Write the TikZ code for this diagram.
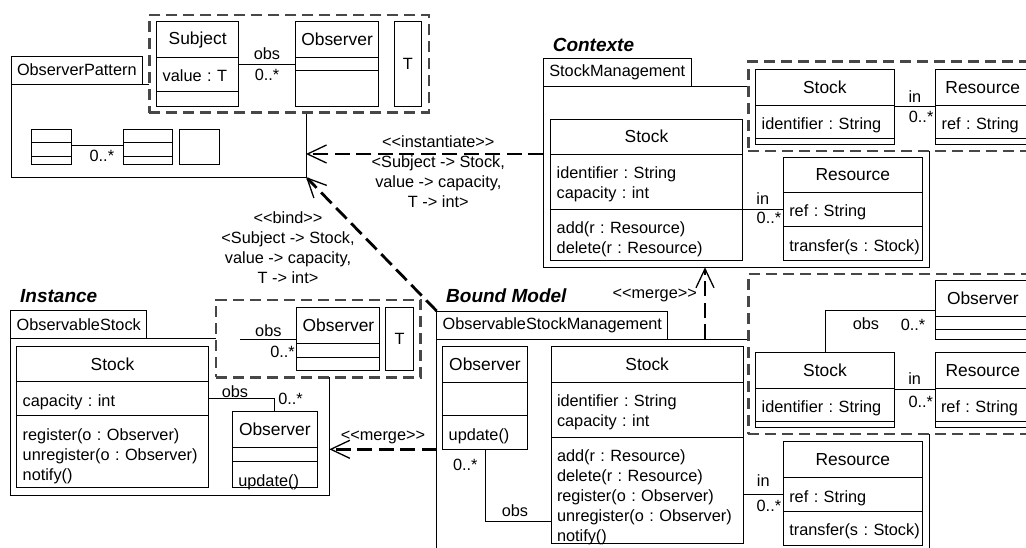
\documentclass[tikz,border=0pt]{standalone}
\usepackage{fontspec}
\usepackage{tikz}
\usetikzlibrary{arrows.meta,positioning}

\newfontfamily\umlfont{Liberation Sans}
\newcommand\txtfont{\umlfont\fontsize{16.3}{20}\selectfont\frenchspacing}
\newcommand\namefont{\umlfont\fontsize{17.4}{20}\selectfont}
\newcommand\pkgfont{\umlfont\fontsize{19}{23}\selectfont\bfseries\itshape}

\begin{document}
\begin{tikzpicture}[
    x=1pt, y=-1pt, line width=1pt,
    tab/.style={draw, fill=white, anchor=north west, font=\txtfont,
                minimum height=28pt, inner xsep=6pt, inner ysep=0pt, outer sep=0pt},
    pkg/.style={draw, fill=white, anchor=north west, inner sep=0pt, outer sep=0pt},
    pkglbl/.style={font=\pkgfont, inner sep=0pt},
    tmpl/.style={draw=black!72, fill=white, line width=2.7pt, dash pattern=on 11pt off 6pt,
                 anchor=north west, inner sep=0pt, outer sep=0pt},
    cname/.style={draw, fill=white, anchor=north west, font=\namefont, align=center,
                  text width=#1, inner xsep=6pt, inner ysep=0pt, outer sep=0pt},
    attr/.style={draw, fill=white, font=\txtfont, align=left, text width=#1,
                 text height=24.3pt, inner xsep=6pt, inner ysep=0pt, outer sep=0pt},
    slot/.style={draw, fill=white, text width=#1, inner xsep=6pt, inner ysep=0pt, outer sep=0pt},
    lbl/.style={font=\txtfont, inner sep=0pt},
    dep/.style={line width=2.8pt, dash pattern=on 15pt off 6.5pt,
                -{Straight Barb[length=19pt, width=18pt, line width=1.3pt]}}
]
\clip (0,0) rectangle (1026,547);

\node[tab] (optab) at (11,56) {ObserverPattern};
\node[pkg, minimum width=295pt, minimum height=93pt] (opbody) at (optab.south west) {};
\node[cname=28pt, minimum height=13.4pt] (m1-n) at (31,129.3) {};
\node[slot=28pt, minimum height=13.3pt, below=0pt of m1-n] (m1-a) {};
\node[slot=28pt, minimum height=8.3pt, below=0pt of m1-a] (m1-o) {};
\node[cname=36.7pt, minimum height=13.4pt] (m2-n) at (123.3,129.3) {};
\node[slot=36.7pt, minimum height=13.3pt, below=0pt of m2-n] (m2-a) {};
\node[slot=36.7pt, minimum height=8.3pt, below=0pt of m2-a] (m2-o) {};
\node[cname=28.7pt, minimum height=35pt] (m3) at (179,129.3) {};
\draw ([yshift=3.4pt]m1-a.east) -- node[lbl, pos=0.59, below=4pt] (ml1) {0..*} ([yshift=3.4pt]m2-a.west);

\node[tmpl, minimum width=279.7pt, minimum height=97.7pt] (tp1) at (149.3,15) {};
\node[cname=70pt, minimum height=35.6pt] (ps-n) at (156.7,21.7) {Subject};
\node[attr=70pt, text depth=9.4pt, below=0pt of ps-n] (ps-a) {value : T};
\node[slot=70pt, minimum height=15.7pt, below=0pt of ps-a] (ps-o) {};
\node[cname=70.7pt, minimum height=35.6pt] (po-n) at (295.3,21.7) {Observer};
\node[slot=70.7pt, minimum height=13.4pt, below=0pt of po-n] (po-a) {};
\node[slot=70.7pt, minimum height=36pt, below=0pt of po-a] (po-o) {};
\node[cname=15.7pt, minimum height=85pt, font=\txtfont] (pt) at (394,21.7) {T};
\draw (ps-n.east |- po-a.west) -- node[lbl, above=4pt] (pl1) {obs}
    node[lbl, below=4.3pt] (pl2) {0..*} (po-a.west);

\node[tab, minimum height=28.4pt] (ctab) at (543.3,58.3) {StockManagement};
\node[pkglbl, above right=6.6pt and 9pt of ctab.north west] (clbl) {Contexte};
\node[pkg, minimum width=385.7pt, minimum height=180.6pt] (cbody) at (ctab.south west) {};
\node[tmpl, minimum width=300pt, minimum height=89.3pt] (tp2) at (748.3,61.7) {};
\node[cname=126.3pt, minimum height=35.7pt] (t2s-n) at (755.7,69.3) {Stock};
\node[attr=126.3pt, text depth=9pt, below=0pt of t2s-n] (t2s-a) {identifier : String};
\node[slot=126.3pt, minimum height=6pt, below=0pt of t2s-a] (t2s-o) {};
\node[cname=82pt, minimum height=35.7pt] (t2r-n) at (935.7,69.3) {Resource};
\node[attr=82pt, text depth=9pt, below=0pt of t2r-n] (t2r-a) {ref : String};
\node[slot=82pt, minimum height=6pt, below=0pt of t2r-a] (t2r-o) {};
\draw ([yshift=-1.7pt]t2s-n.south east) -- node[lbl, above=4pt] (t2l1) {in}
    node[lbl, pos=0.65, below=4.3pt] (t2l2) {0..*} ([yshift=-1.7pt]t2r-n.south west);

\node[cname=179.6pt, minimum height=35pt] (cs-n) at (550.7,119) {Stock};
\node[attr=179.6pt, text depth=30.7pt, below=0pt of cs-n] (cs-a) {identifier : String\\capacity : int};
\node[attr=179.6pt, text depth=27.4pt, below=0pt of cs-a] (cs-o) {add(r : Resource)\\delete(r : Resource)};
\node[cname=127pt, minimum height=35pt] (cr-n) at (783.3,157.3) {Resource};
\node[attr=127pt, text depth=10.1pt, below=0pt of cr-n] (cr-a) {ref : String};
\node[attr=127pt, text depth=9.7pt, below=0pt of cr-a] (cr-o) {transfer(s~:~Stock)};
\draw (cs-a.south east) -- node[lbl, above=4.5pt] (cl1) {in}
    node[lbl, pos=0.65, below=2.7pt] (cl2) {0..*} (cs-a.south east -| cr-a.west);

\node[tab, minimum height=27.6pt] (itab) at (10.7,310.7) {ObservableStock};
\node[pkglbl, above right=8pt and 9pt of itab.north west] (ilbl) {Instance};
\node[pkg, minimum width=318.6pt, minimum height=156.7pt] (ibody) at (itab.south west) {};
\node[tmpl, minimum width=204.7pt, minimum height=77.3pt] (tp4) at (216,300) {};
\node[cname=70.3pt, minimum height=35.6pt] (t4o-n) at (296.7,307.7) {Observer};
\node[slot=70.3pt, minimum height=14pt, below=0pt of t4o-n] (t4o-a) {};
\node[slot=70.3pt, minimum height=12.7pt, below=0pt of t4o-a] (t4o-o) {};
\node[cname=15.6pt, minimum height=62.3pt, font=\txtfont] (t4t) at (385.7,307.7) {T};
\coordinate (t4end) at (240,339);
\draw (t4end) -- node[lbl, above=2.3pt] (t4l1) {obs}
    node[lbl, pos=0.75, below=7pt] (t4l2) {0..*} (t4end -| t4o-n.west);

\node[cname=179.6pt, minimum height=35.7pt] (is-n) at (16.7,346) {Stock};
\node[attr=179.6pt, text depth=9.7pt, below=0pt of is-n] (is-a) {capacity : int};
\node[attr=179.6pt, text depth=47.7pt, below=0pt of is-a] (is-o) {register(o : Observer)\\unregister(o : Observer)\\notify()};
\node[cname=73pt, minimum height=36pt] (io-n) at (232.3,411.7) {Observer};
\node[slot=73pt, minimum height=14pt, below=0pt of io-n] (io-a) {};
\node[attr=73pt, text depth=1.7pt, below=0pt of io-a] (io-o) {update()};
\draw (is-a.east) -| node[lbl, pos=0.2, above=1pt] (il1) {obs}
    node[lbl, pos=0.5, right=3pt] (il2) {0..*} (io-n.north);

\node[tab] (btab) at (436.7,311) {ObservableStockManagement};
\node[pkglbl, above right=8.3pt and 9pt of btab.north west] (blbl) {Bound Model};
\node[pkg, minimum width=492.3pt, minimum height=240pt] (bbody) at (btab.south west) {};
\node[tmpl, minimum width=300pt, minimum height=160pt] (tp3) at (748.3,274) {};
\node[cname=83.6pt, minimum height=35.3pt] (t3o-n) at (935,280.7) {Observer};
\node[slot=83.6pt, minimum height=13.3pt, below=0pt of t3o-n] (t3o-a) {};
\node[slot=83.6pt, minimum height=9.7pt, below=0pt of t3o-a] (t3o-o) {};
\node[cname=126.6pt, minimum height=35.6pt] (t3s-n) at (755.7,352.7) {Stock};
\node[attr=126.6pt, text depth=9.1pt, below=0pt of t3s-n] (t3s-a) {identifier : String};
\node[slot=126.6pt, minimum height=5.6pt, below=0pt of t3s-a] (t3s-o) {};
\node[cname=83.6pt, minimum height=35.6pt] (t3r-n) at (935,352.7) {Resource};
\node[attr=83.6pt, text depth=9.1pt, below=0pt of t3r-n] (t3r-a) {ref : String};
\node[slot=83.6pt, minimum height=5.6pt, below=0pt of t3r-a] (t3r-o) {};
\draw (t3s-n.north) |- node[lbl, pos=0.686, below=7pt] (t3l1) {obs}
    node[lbl, pos=0.9, below=9pt] (t3l2) {0..*} ([yshift=6pt]t3o-n.south west);
\draw ([yshift=-1pt]t3s-n.south east) -- node[lbl, above=4.3pt] (t3l3) {in}
    node[lbl, pos=0.65, below=6pt] (t3l4) {0..*} ([yshift=-1pt]t3r-n.south west);

\node[cname=72.6pt, minimum height=35.6pt] (bo-n) at (442.7,346.7) {Observer};
\node[slot=72.6pt, minimum height=33.4pt, below=0pt of bo-n] (bo-a) {};
\node[attr=72.6pt, text depth=9.3pt, below=0pt of bo-a] (bo-o) {update()};
\node[cname=180.3pt, minimum height=35.6pt] (bs-n) at (551,346.7) {Stock};
\node[attr=180.3pt, text depth=30.7pt, below=0pt of bs-n] (bs-a) {identifier : String\\capacity : int};
\node[attr=180.3pt, text depth=81.9pt, below=0pt of bs-a] (bs-o)
    {add(r : Resource)\\delete(r : Resource)\\register(o : Observer)\\unregister(o : Observer)\\notify()};
\node[cname=127pt, minimum height=36.7pt] (br-n) at (783.3,441) {Resource};
\node[attr=127pt, text depth=9pt, below=0pt of br-n] (br-a) {ref : String};
\node[attr=127pt, text depth=9.7pt, below=0pt of br-a] (br-o) {transfer(s~:~Stock)};
\draw (bo-o.south) |- node[lbl, pos=0.11, left=7pt] (bl1) {0..*}
    node[lbl, pos=0.727, above=4pt] (bl2) {obs} ([yshift=22.5pt]bs-o.south west);
\draw (bs-o.east |- br-a.west) -- node[lbl, above=7pt] (bl3) {in}
    node[lbl, pos=0.64, below=5pt] (bl4) {0..*} (br-a.west);

\draw[dep] (cbody.west |- cs-n.south) -- node[lbl, align=center, pos=0.4425, yshift=-17.7pt] (instlbl)
    {<<instantiate>>\\<Subject -> Stock,\\value -> capacity,\\T -> int>} (opbody.east |- cs-n.south);
\draw[dep] (btab.north west) -- node[lbl, align=center, pos=0.472, left=19pt] (bindlbl)
    {<<bind>>\\<Subject -> Stock,\\value -> capacity,\\T -> int>} (opbody.south east);
\coordinate (mtop) at (705,339);
\draw[dep] (mtop) -- node[lbl, pos=0.61, left=6.7pt] (mlbl1) {<<merge>>} (mtop |- cbody.south);
\draw[dep] (bbody.west |- bo-o.south) -- node[lbl, above=4pt] (mlbl2) {<<merge>>} (ibody.east |- bo-o.south);

\end{tikzpicture}
\end{document}
